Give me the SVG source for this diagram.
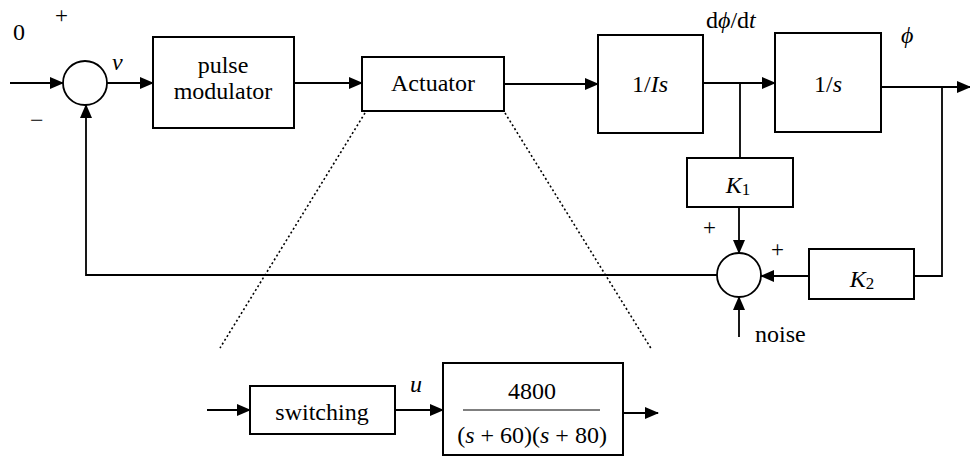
<svg xmlns="http://www.w3.org/2000/svg" width="970" height="456" viewBox="0 0 970 456">
<style>
.b{fill:#fff;stroke:#000;stroke-width:2}
.c{fill:none;stroke:#000;stroke-width:1.8}
.l{fill:none;stroke:#000;stroke-width:1.8}
.d{fill:none;stroke:#000;stroke-width:1.6;stroke-dasharray:2 2.5}
.m{text-anchor:middle}
.i{font-style:italic}
.t{font-family:"Liberation Serif","DejaVu Serif",serif;font-size:24px;fill:#000}
.p{font-size:23px}
</style>
<defs>
<marker id="a" markerUnits="userSpaceOnUse" markerWidth="14" markerHeight="12" refX="13" refY="6" orient="auto">
<path d="M0,0 L14,6 L0,12 Z" fill="#000"/>
</marker>
</defs>
<rect width="970" height="456" fill="#fff"/>
<g id="connectors">
<line class="l" x1="10" y1="83" x2="63" y2="83" marker-end="url(#a)"/>
<line class="l" x1="107" y1="83" x2="153" y2="83" marker-end="url(#a)"/>
<line class="l" x1="294" y1="83" x2="362" y2="83" marker-end="url(#a)"/>
<line class="l" x1="504" y1="84" x2="598" y2="84" marker-end="url(#a)"/>
<line class="l" x1="703" y1="83" x2="775" y2="83" marker-end="url(#a)"/>
<line class="l" x1="881" y1="87" x2="970" y2="87" marker-end="url(#a)"/>
<line class="l" x1="740" y1="83" x2="740" y2="158"/>
<line class="l" x1="739" y1="207" x2="739" y2="253" marker-end="url(#a)"/>
<polyline class="l" points="717,275 86,275 86,105" marker-end="url(#a)"/>
<polyline class="l" points="942,87 942,276 914,276"/>
<line class="l" x1="809" y1="276" x2="761" y2="276" marker-end="url(#a)"/>
<line class="l" x1="739" y1="337" x2="739" y2="297" marker-end="url(#a)"/>
<line class="d" x1="365" y1="113" x2="220" y2="348"/>
<line class="d" x1="505" y1="113" x2="652" y2="350"/>
<line class="l" x1="207" y1="410" x2="250" y2="410" marker-end="url(#a)"/>
<line class="l" x1="395" y1="410" x2="443" y2="410" marker-end="url(#a)"/>
<line class="l" x1="623" y1="413" x2="658" y2="413" marker-end="url(#a)"/>
</g>
<g id="sum1">
<circle class="c" cx="85" cy="83" r="22"/>
<text class="t" x="13" y="40">0</text>
<text class="t p" x="55" y="23">+</text>
<text class="t" x="30" y="128">−</text>
<text class="t i" x="112" y="70">v</text>
</g>
<g id="pulse">
<rect class="b" x="153" y="37" width="141" height="91"/>
<text class="t m" x="223" y="73">pulse</text>
<text class="t m" x="223" y="99">modulator</text>
</g>
<g id="actuator">
<rect class="b" x="362" y="57" width="142" height="54"/>
<text class="t m" x="433" y="91">Actuator</text>
</g>
<g id="integ1">
<rect class="b" x="598" y="35" width="105" height="98"/>
<text class="t m" x="650" y="92">1/<tspan class="i">Is</tspan></text>
<text class="t" x="706" y="28">d<tspan class="i">ϕ</tspan>/d<tspan class="i">t</tspan></text>
</g>
<g id="integ2">
<rect class="b" x="775" y="33" width="106" height="99"/>
<text class="t m" x="828" y="92">1/<tspan class="i">s</tspan></text>
<text class="t i" x="901" y="43">ϕ</text>
</g>
<g id="k1">
<rect class="b" x="687" y="158" width="106" height="49"/>
<text class="t m" x="738" y="193"><tspan class="i">K</tspan><tspan style="font-size:17px" dy="2">1</tspan></text>
</g>
<g id="sum2">
<circle class="c" cx="739" cy="275" r="22"/>
<text class="t p" x="703" y="235">+</text>
<text class="t p" x="771" y="257">+</text>
<text class="t" x="755" y="342">noise</text>
</g>
<g id="k2">
<rect class="b" x="809" y="249" width="105" height="50"/>
<text class="t m" x="862" y="287"><tspan class="i">K</tspan><tspan style="font-size:17px" dy="2">2</tspan></text>
</g>
<g id="switching">
<rect class="b" x="250" y="386" width="145" height="48"/>
<text class="t m" x="322" y="420">switching</text>
<text class="t i" x="410" y="392">u</text>
</g>
<g id="plant">
<rect class="b" x="443" y="363" width="180" height="92"/>
<text class="t m" x="532" y="399">4800</text>
<line x1="463" y1="410" x2="600" y2="410" stroke="#000" stroke-width="1.2"/>
<text class="t m" x="532" y="443">(<tspan class="i">s</tspan> + 60)(<tspan class="i">s</tspan> + 80)</text>
</g>
</svg>
